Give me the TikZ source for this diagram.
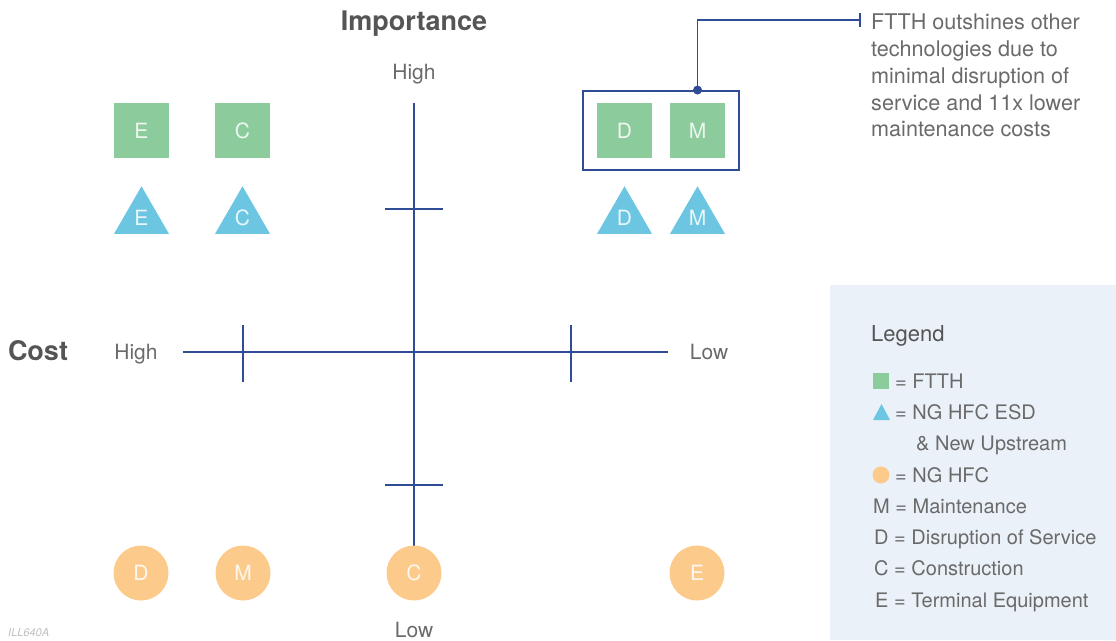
\documentclass[tikz,border=0pt]{standalone}
\usepackage{fontspec}
\setmainfont{TeX Gyre Heros}
\usetikzlibrary{shapes.geometric}
\definecolor{axisblue}{HTML}{2E4D96}
\definecolor{ftthgreen}{HTML}{8CCB9B}
\definecolor{hfcblue}{HTML}{6CC6E2}
\definecolor{hfcorange}{HTML}{FCCB8C}
\definecolor{txtgray}{HTML}{6A6A6A}
\definecolor{ttlgray}{HTML}{555555}
\definecolor{legbg}{HTML}{EAF1F9}
\begin{document}
\begin{tikzpicture}[x=1pt,y=-1pt,
  axis/.style={draw=axisblue,line width=1.9pt},
  shapetxt/.style={text=white,text opacity=0.85,font=\fontsize{21}{24}\selectfont,inner sep=0pt},
  sq/.style={shapetxt,rectangle,fill=ftthgreen,minimum size=55pt},
  tri/.style={shapetxt,regular polygon,regular polygon sides=3,fill=hfcblue,minimum size=63.5pt},
  circ/.style={shapetxt,circle,fill=hfcorange,minimum size=55pt},
  lbl/.style={text=txtgray,font=\fontsize{21}{25}\selectfont,inner sep=0pt,anchor=base},
  ttl/.style={text=ttlgray,font=\fontsize{27}{30}\selectfont\bfseries,inner sep=0pt,anchor=base},
  leg/.style={text=txtgray,font=\fontsize{20}{24}\selectfont,inner sep=0pt,anchor=base west}]
\useasboundingbox (0,0) rectangle (1116,640);
% legend background
\fill[legbg] (830,285) rectangle (1116,640);
% axes
\coordinate (vtop) at (414,103);
\coordinate (vbot) at (414,546);
\coordinate (hl) at (183,352);
\coordinate (hr) at (668,352);
\draw[axis] (vtop) -- (vbot);
\draw[axis] (hl) -- (hr);
\draw[axis] (385,209) -- (443,209);
\draw[axis] (385,485) -- (443,485);
\draw[axis] (243,325) -- (243,382);
\draw[axis] (571,325) -- (571,382);
% titles and axis labels
\node[ttl] (imp) at (414,30) {Importance};
\node[ttl] (cost) at (38,360) {Cost};
\node[lbl] (hightop) at (414,79) {High};
\node[lbl] (lowbot) at (414,637) {Low};
\node[lbl] (highleft) at (136,359) {High};
\node[lbl] (lowright) at (709,359) {Low};
% FTTH squares
\node[sq] (sqE) at (141.5,130.5) {E};
\node[sq] (sqC) at (242.5,130.5) {C};
\node[sq] (sqD) at (624.5,130.5) {D};
\node[sq] (sqM) at (697.5,130.5) {M};
% highlight box
\node[draw=axisblue,line width=1.9pt,minimum width=156pt,minimum height=79pt,inner sep=0pt] (hbox) at (661,130.5) {};
% triangles
\node[tri] (trE) at (141.5,218) {E};
\node[tri] (trC) at (242.5,218) {C};
\node[tri] (trD) at (624.5,218) {D};
\node[tri] (trM) at (697.5,218) {M};
% circles
\node[circ] (ciD) at (141,573) {D};
\node[circ] (ciM) at (243,573) {M};
\node[circ] (ciC) at (414,573) {C};
\node[circ] (ciE) at (697,573) {E};
% callout
\coordinate (dot) at (hbox.north -| sqM);
\coordinate (bend) at (697.5,20);
\coordinate (cend) at (860,20);
\draw[draw=axisblue,line width=1.9pt] (dot) -- (bend) -- (cend);
\draw[draw=axisblue,line width=1.9pt] (860,13) -- (860,27);
\fill[axisblue] (dot) circle (4.5pt);
\node[anchor=north west,inner sep=0pt,align=left,text=txtgray,font=\fontsize{21.6}{26.75}\selectfont] (note) at (871,14) {FTTH outshines other\\technologies due to\\minimal disruption of\\service and 11x lower\\maintenance costs};
% legend
\node[text=ttlgray,font=\fontsize{22}{26}\selectfont,inner sep=0pt,anchor=base west] (legtitle) at (871,341) {Legend};
\fill[ftthgreen] (873,373) rectangle (889,389);
\fill[hfcblue] (873,420) -- (881.5,404) -- (890,420) -- cycle;
\fill[hfcorange] (881,475) circle (8.5pt);
\node[leg] (l1) at (895,388) {= FTTH};
\node[leg] (l2) at (895,419) {= NG HFC ESD};
\node[leg] (l3) at (916,450) {\& New Upstream};
\node[leg] (l4) at (895,482) {= NG HFC};
\node[leg] (l5) at (873,513) {M = Maintenance};
\node[leg] (l6) at (874,544) {D = Disruption of Service};
\node[leg] (l7) at (874,575) {C = Construction};
\node[leg] (l8) at (875,607) {E = Terminal Equipment};
% figure id
\node[text=black!25,font=\fontsize{11}{12}\selectfont\itshape,inner sep=0pt,anchor=base west] (figid) at (8,636) {ILL640A};
\end{tikzpicture}
\end{document}
